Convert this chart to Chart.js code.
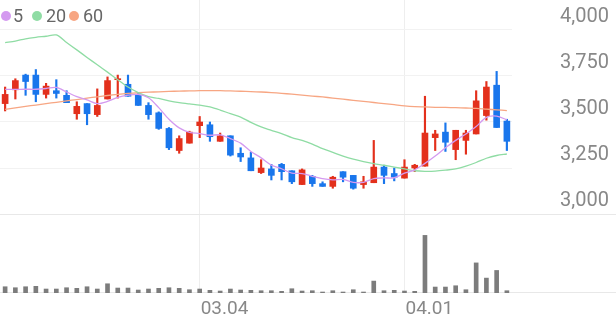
<!DOCTYPE html>
<html>
<head>
<meta charset="utf-8">
<script src="https://cdn.jsdelivr.net/npm/chart.js@4.4.1/dist/chart.umd.min.js"></script>
<style>
  html, body { margin: 0; padding: 0; background: #fff; }
  #wrap { position: relative; width: 616px; height: 321px; }
  .lg { position: absolute; top: 4px; font: 18px Roboto, sans-serif; color: #666; line-height: 24px; }
  .dot { position: absolute; top: 11px; width: 10px; height: 10px; border-radius: 50%; }
</style>
</head>
<body>
<div id="wrap">
  <canvas id="chart" width="616" height="321"></canvas>
  <div id="legend"></div>
</div>
<script>
const dates = ['02.01','02.02','02.05','02.06','02.07','02.08','02.13','02.14','02.15','02.16',
  '02.19','02.20','02.21','02.22','02.23','02.26','02.27','02.28','02.29','03.04',
  '03.05','03.06','03.07','03.08','03.11','03.12','03.13','03.14','03.15','03.18',
  '03.19','03.20','03.21','03.22','03.25','03.26','03.27','03.28','03.29','04.01',
  '04.02','04.03','04.04','04.05','04.08','04.09','04.11','04.12','04.15','04.16'];

const openP = [3600,3675,3755,3755,3650,3670,3645,3545,3600,3540,
  3625,3730,3705,3645,3590,3550,3465,3345,3385,3480,
  3485,3395,3425,3330,3305,3225,3245,3270,3235,3160,
  3205,3165,3150,3230,3210,3160,3170,3255,3220,3195,
  3250,3260,3415,3445,3350,3400,3435,3535,3700,3505];
const highP = [3690,3735,3760,3785,3710,3730,3670,3610,3600,3680,
  3745,3755,3755,3655,3605,3555,3470,3425,3450,3530,
  3500,3440,3425,3360,3335,3295,3270,3275,3235,3245,
  3210,3175,3205,3230,3210,3205,3400,3265,3250,3295,
  3270,3640,3455,3495,3455,3455,3670,3720,3775,3515];
const lowP = [3560,3625,3645,3610,3630,3630,3605,3515,3485,3530,
  3625,3630,3640,3590,3515,3460,3350,3330,3385,3415,
  3395,3395,3315,3285,3235,3220,3185,3185,3165,3160,
  3150,3150,3140,3175,3135,3140,3170,3165,3180,3195,
  3230,3260,3345,3340,3295,3325,3435,3510,3470,3345];
const closeP = [3650,3725,3720,3650,3695,3655,3605,3585,3545,3590,
  3725,3735,3640,3590,3540,3465,3360,3410,3445,3500,
  3420,3425,3320,3310,3235,3250,3210,3230,3175,3240,
  3165,3150,3200,3200,3140,3175,3255,3210,3200,3255,
  3265,3440,3435,3390,3455,3440,3615,3690,3470,3395];
// volume, thousand shares
const volume = [63,53,63,67,40,40,53,47,63,40,
  93,50,50,30,40,47,53,47,33,40,
  27,20,40,30,27,23,23,17,43,20,
  23,10,23,10,33,10,120,23,27,20,
  17,580,60,60,73,33,303,150,227,23];

const ma5 = [3677,3677,3678,3678,3682,3688,3663,3638,3620,3600,
  3612,3634,3646,3650,3632,3578,3515,3468,3444,3437,
  3428,3430,3410,3385,3340,3305,3266,3246,3222,3220,
  3205,3192,3186,3188,3172,3172,3192,3196,3197,3222,
  3240,3275,3315,3360,3400,3435,3475,3525,3532,3512];
const ma20 = [3931,3940,3952,3960,3966,3973,3932,3892,3851,3811,
  3771,3730,3690,3660,3638,3628,3615,3605,3598,3592,
  3582,3565,3545,3527,3498,3473,3455,3437,3415,3400,
  3380,3355,3335,3315,3298,3285,3274,3265,3255,3245,
  3235,3232,3233,3238,3245,3260,3280,3303,3318,3326];
const ma60 = [3569,3577,3585,3592,3600,3607,3615,3622,3630,3637,
  3644,3650,3655,3659,3662,3664,3666,3668,3669,3670,
  3670,3670,3669,3667,3665,3663,3660,3656,3651,3646,
  3641,3636,3630,3624,3618,3612,3606,3600,3594,3588,
  3584,3582,3580,3579,3578,3576,3574,3570,3566,3562];

const maNames = ['5', '20', '60'];
const maColors = ['#d49af0', '#8fdca4', '#f7a683'];
const priceTicks = [3000, 3250, 3500, 3750, 4000];
const shownDates = ['03.04', '04.01'];

const upColor = '#e3301c';
const downColor = '#1976ec';
const candleColors = closeP.map((c, i) => c >= openP[i] ? upColor : downColor);
const bodies = openP.map((o, i) => [Math.min(o, closeP[i]), Math.max(o, closeP[i])]);
const wicks = lowP.map((l, i) => [l, highP[i]]);

// legend
const legendPos = [[1, 13], [32, 46], [68.5, 83]];
document.getElementById('legend').innerHTML = maNames.map((n, i) =>
  `<span class="dot" style="left:${legendPos[i][0]}px;background:${maColors[i]}"></span>` +
  `<span class="lg" style="left:${legendPos[i][1]}px">${n}</span>`
).join('');

const separators = {
  id: 'separators',
  beforeDatasetsDraw(chart) {
    const { ctx, chartArea, scales } = chart;
    const ys = [Math.round(scales.y.getPixelForValue(priceTicks[0])) + 0.5, Math.round(chartArea.bottom) - 0.5];
    ctx.save();
    ctx.strokeStyle = '#e8e8e8';
    ctx.lineWidth = 1;
    ys.forEach(y => {
      ctx.beginPath();
      ctx.moveTo(0, y);
      ctx.lineTo(chart.width, y);
      ctx.stroke();
    });
    ctx.restore();
  }
};

new Chart(document.getElementById('chart'), {
  type: 'bar',
  data: {
    labels: dates,
    datasets: [
      { type: 'line', data: ma5, borderColor: maColors[0], borderWidth: 1.3, pointRadius: 0, tension: 0.3, yAxisID: 'y', order: 1 },
      { type: 'line', data: ma20, borderColor: maColors[1], borderWidth: 1.3, pointRadius: 0, tension: 0.3, yAxisID: 'y', order: 1 },
      { type: 'line', data: ma60, borderColor: maColors[2], borderWidth: 1.3, pointRadius: 0, tension: 0.3, yAxisID: 'y', order: 1 },
      { data: bodies, backgroundColor: candleColors, barThickness: 6, minBarLength: 1, grouped: false, yAxisID: 'y', order: 3 },
      { data: wicks, backgroundColor: candleColors, barThickness: 1.5, grouped: false, yAxisID: 'y', order: 4 },
      { data: volume, backgroundColor: '#7c7c7c', barThickness: 4, grouped: false, yAxisID: 'vol', order: 5 }
    ]
  },
  options: {
    responsive: false,
    animation: false,
    devicePixelRatio: 1,
    layout: { padding: 0 },
    plugins: { legend: { display: false }, tooltip: { enabled: false } },
    scales: {
      x: {
        offset: true,
        grid: {
          offset: false,
          drawTicks: false,
          color: c => shownDates.includes(dates[c.index]) ? '#eeeeee' : 'rgba(0,0,0,0)'
        },
        border: { display: false },
        ticks: {
          autoSkip: false,
          maxRotation: 0,
          align: 'start',
          labelOffset: 1,
          padding: 5,
          color: '#888',
          font: { family: 'Roboto', size: 19 },
          callback: (v, i) => shownDates.includes(dates[i]) ? dates[i] : ''
        },
        afterFit: s => { s.height = 28; s.paddingLeft = 0; s.paddingRight = 0; }
      },
      y: {
        position: 'right',
        min: 2570.7,
        max: 4163,
        afterBuildTicks: s => { s.ticks = priceTicks.map(v => ({ value: v })); },
        grid: {
          drawTicks: false,
          color: c => c.tick && c.tick.value === priceTicks[0] ? 'rgba(0,0,0,0)' : '#f2f2f2'
        },
        border: { display: false },
        ticks: {
          crossAlign: 'near',
          padding: 48,
          labelOffset: -13,
          color: '#888',
          font: { family: 'Roboto', size: 20 },
          callback: v => v.toLocaleString('en-US')
        },
        afterFit: s => { s.width = 104; s.paddingTop = 0; s.paddingBottom = 0; }
      },
      vol: {
        display: false,
        min: 0,
        max: 2950
      }
    }
  },
  plugins: [separators]
});
</script>
</body>
</html>
